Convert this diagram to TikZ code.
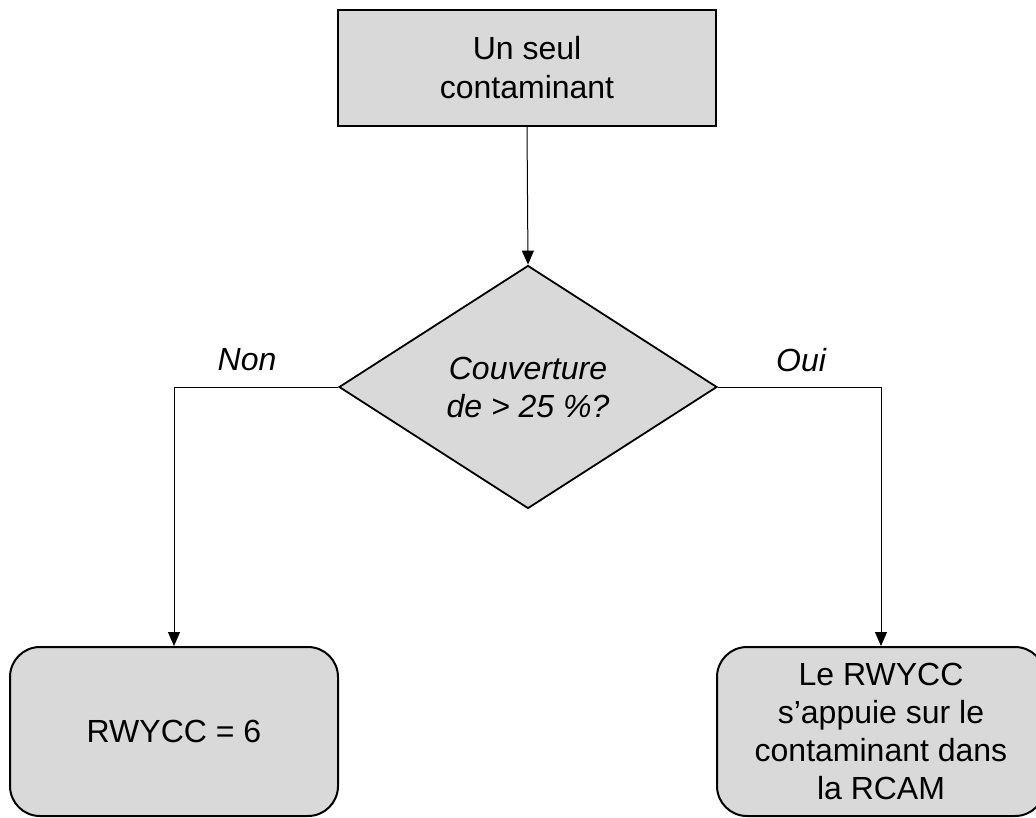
\documentclass[tikz,border=0pt]{standalone}
\usepackage{fontspec}
\setmainfont{Liberation Sans}
\usetikzlibrary{shapes.geometric,arrows.meta}
\definecolor{boxgray}{HTML}{D9D9D9}
\begin{document}
\begin{tikzpicture}[x=1pt,y=1pt,
  every node/.style={font=\fontsize{32}{39}\selectfont},
  procbox/.style={draw=black, line width=2pt, fill=boxgray, inner sep=0pt, align=center},
  endbox/.style={procbox, rounded corners=30pt, minimum width=328pt, minimum height=169pt},
  decision/.style={diamond, draw=black, line width=1.8pt, fill=boxgray, inner sep=0pt, aspect=1.556, align=center, minimum width=378pt, minimum height=243pt, font=\fontsize{32}{38}\selectfont\itshape},
  conn/.style={draw=black, line width=1pt, -{Triangle[width=12pt,length=14pt]}},
  lbl/.style={font=\fontsize{32}{38}\selectfont\itshape}
]
\useasboundingbox (0,0) rectangle (1036,-817);
\node[procbox, minimum width=378pt, minimum height=116pt] (start) at (527,-68) {Un seul\\contaminant};
\node[decision] (dec) at (528,-387) {Couverture\\de > 25 \%?};
\node[endbox] (left) at (174,-731.5) {RWYCC = 6};
\node[endbox, font=\fontsize{32}{38}\selectfont] (right) at (881,-731.5) {\raisebox{-5pt}{\parbox{320pt}{\centering Le RWYCC\\s’appuie sur le\\contaminant dans\\la RCAM}}};
\draw[conn] (start.south) -- (dec.north);
\draw[conn] (dec.west) -| (left.north);
\draw[conn] (dec.east) -| (right.north);
\node[lbl] (non) at (247,-360) {Non};
\node[lbl] (oui) at (801,-360) {Oui};
\end{tikzpicture}
\end{document}
